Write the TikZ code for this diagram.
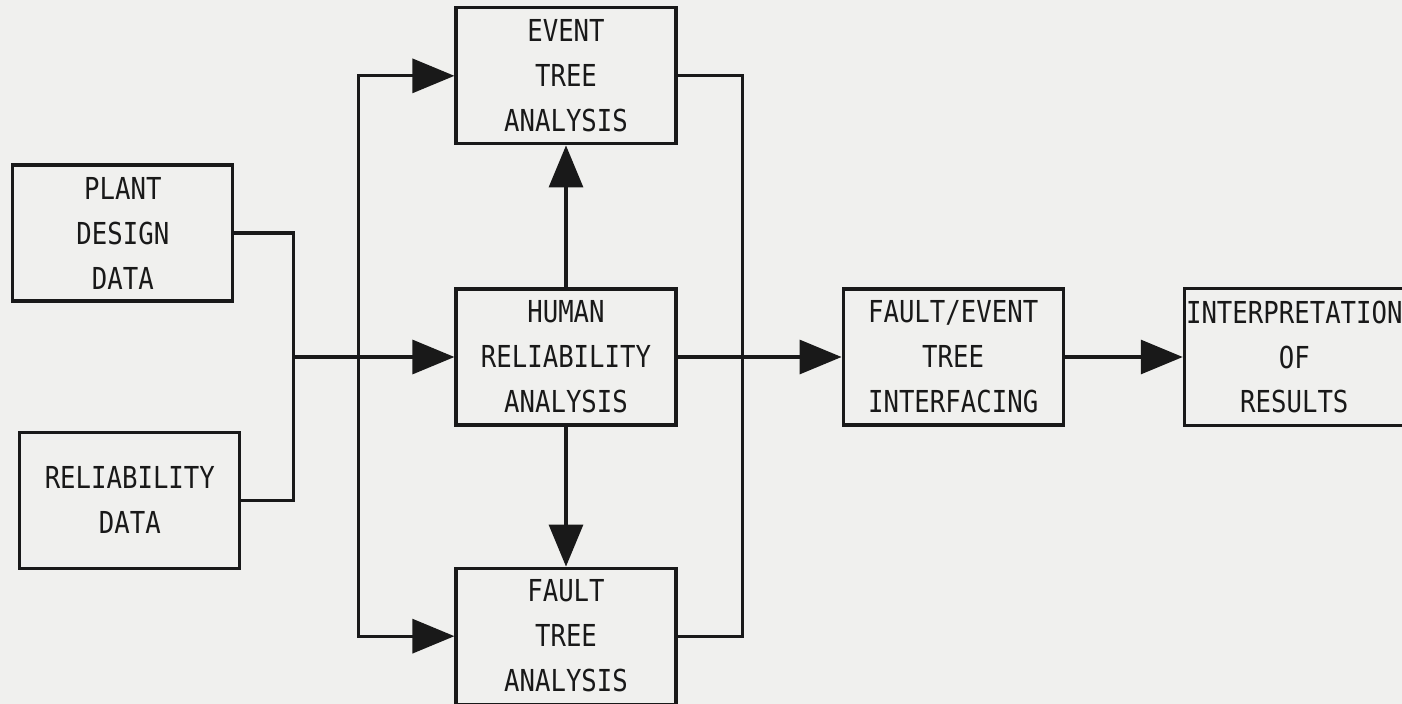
\documentclass[tikz,border=0pt]{standalone}
\usepackage{fontspec}
\newfontfamily\typefont[FakeStretch=0.85]{DejaVu Sans Mono}
\usepackage{tikz}
\usetikzlibrary{positioning,arrows.meta}
\definecolor{paper}{RGB}{240,240,238}
\definecolor{ink}{RGB}{25,25,25}

\begin{document}
\begin{tikzpicture}[
        block/.style={rectangle, draw=ink, line width=0.9pt, minimum width=2.2cm, minimum height=1.36cm,
            inner xsep=0pt, align=center, text=ink, font=\typefont\fontsize{8.6pt}{12.8pt}\selectfont},
        arrow/.style={-{Triangle[length=4.2mm, width=3.4mm]}, draw=ink, line width=0.9pt},
        link/.style={draw=ink, line width=0.9pt}
    ]
    \useasboundingbox[fill=paper] (0,0) rectangle (14.02,-7.04);

    % Analysis column
    \node[block] (hra) at (5.66,-3.57) {HUMAN\\RELIABILITY\\ANALYSIS};
    \node[block, above=1.42cm of hra] (eta) {EVENT\\TREE\\ANALYSIS};
    \node[block, below=1.40cm of hra] (fta) {FAULT\\TREE\\ANALYSIS};

    % Input data
    \node[block, left=2.2cm of hra, yshift=1.24cm] (plant) {PLANT\\DESIGN\\DATA};
    \node[block, below=1.28cm of plant, xshift=0.07cm] (rel) {RELIABILITY\\DATA};

    % Results
    \node[block, right=1.64cm of hra] (ffe) {FAULT/EVENT\\TREE\\INTERFACING};
    \node[block, right=1.18cm of ffe] (interp) {INTERPRETATION\\OF\\RESULTS};

    % Junctions
    \coordinate[right=0.59cm of plant.east] (join);
    \coordinate[left=0.96cm of hra.west] (split);
    \coordinate[right=0.65cm of hra.east] (merge);

    % Connect everything
    \draw[link] (plant.east) -| (join) |- (rel.east);
    \draw[arrow] (join |- hra.west) -- (hra.west);
    \draw[arrow] (split) |- (eta.west);
    \draw[arrow] (split) |- (fta.west);
    \draw[arrow] (hra) -- (eta);
    \draw[arrow] (hra) -- (fta);
    \draw[link] (eta.east) -| (merge) |- (fta.east);
    \draw[arrow] (hra) -- (ffe);
    \draw[arrow] (ffe) -- (interp);
\end{tikzpicture}
\end{document}
